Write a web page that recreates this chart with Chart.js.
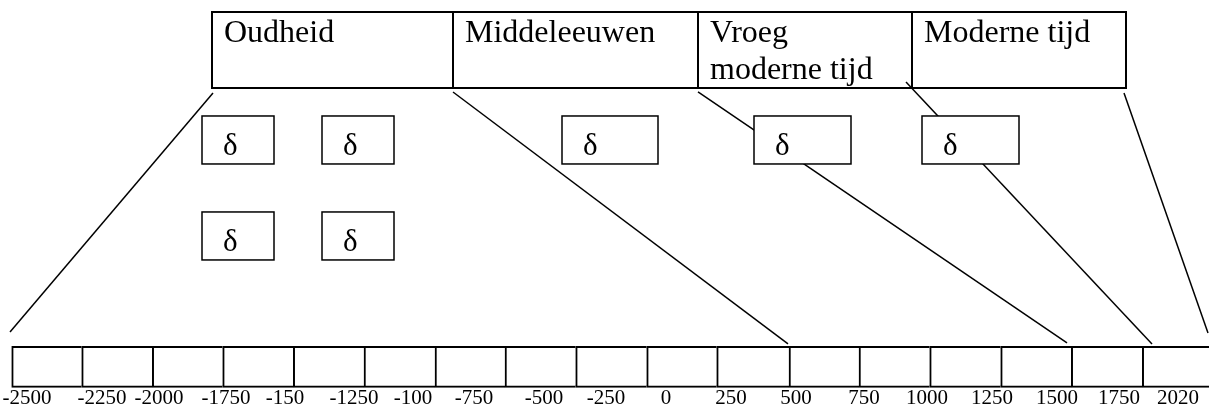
<!DOCTYPE html>
<html>
<head>
<meta charset="utf-8">
<script src="https://cdn.jsdelivr.net/npm/chart.js@4/dist/chart.umd.min.js"></script>
<style>
  html, body { margin: 0; padding: 0; background: #ffffff; }
  #wrap { position: relative; width: 1209px; height: 408px; }
</style>
</head>
<body>
<div id="wrap"><canvas id="c"></canvas></div>
<script>
// ---------- data ----------
const periodNames = [["Oudheid"], ["Middeleeuwen"], ["Vroeg", "moderne tijd"], ["Moderne tijd"]];
const tickLabels = ["-2500", "-2250", "-2000", "-1750", "-150", "-1250", "-100", "-750", "-500", "-250",
                    "0", "250", "500", "750", "1000", "1250", "1500", "1750", "2020"];
const eventSymbols = ["δ", "δ", "δ", "δ", "δ", "δ", "δ"];

// ---------- layout (diagram units, 1 unit = 1 px of the design) ----------
const periodEdgesX = [212, 453, 698, 912, 1126];
const periodBoxY = [12, 88];
const periodTextBaselines = [42, 79];
const tickLabelX = [27, 102, 159, 226, 285, 354, 413, 474, 544, 606, 666, 731, 796, 864, 927, 992, 1057, 1119, 1178];
const timelineEdgesX = [11.7, 81.7, 152.3, 222.7, 293.3, 364, 435, 505, 575.7, 646.7, 716.7, 789, 859,
                        929.7, 1000.7, 1071.3, 1142.3, 1212.8];
const timelineY = [346.5, 387.5];
const eventBoxes = [
  [202, 274, 116, 164], [322, 394, 116, 164], [562, 658, 116, 164],
  [754, 851, 116, 164], [922, 1019, 116, 164],
  [202, 274, 212, 260], [322, 394, 212, 260]
];
const connectors = [
  [[10, 332], [213, 93]],
  [[453, 92], [788, 344]],
  [[698, 92], [1067, 343]],
  [[906, 82], [1152, 344]],
  [[1124, 93], [1208, 333]]
];

const SERIF = '"Liberation Serif", "Times New Roman", serif';

const lineDatasets = connectors.map(seg => ({
  type: 'line',
  data: seg.map(p => ({ x: p[0], y: p[1] })),
  borderColor: '#000',
  borderWidth: 1.5,
  pointRadius: 0,
  fill: false,
  tension: 0,
  clip: false,
  order: 2
}));

const cellDataset = {
  type: 'bar',
  indexAxis: 'y',
  data: timelineEdgesX.slice(0, -1).map((x0, i) => ({
    y: (timelineY[0] + timelineY[1]) / 2,
    x: [x0, timelineEdgesX[i + 1]]
  })),
  backgroundColor: '#ffffff',
  borderColor: '#000000',
  borderWidth: { left: 2, top: 2, bottom: 2, right: 0 },
  borderSkipped: false,
  barThickness: timelineY[1] - timelineY[0],
  order: 1
};

const diagramPlugin = {
  id: 'diagram',
  beforeDraw(chart) {
    const ctx = chart.ctx;
    ctx.save();
    ctx.fillStyle = '#ffffff';
    ctx.fillRect(0, 0, chart.width, chart.height);
    ctx.restore();
  },
  afterDatasetsDraw(chart) {
    const ctx = chart.ctx;
    const xs = chart.scales.x, ys = chart.scales.y;
    const X = v => xs.getPixelForValue(v);
    const Y = v => ys.getPixelForValue(v);
    ctx.save();
    // period header boxes
    ctx.strokeStyle = '#000';
    ctx.lineWidth = 2;
    ctx.beginPath();
    ctx.moveTo(X(periodEdgesX[0]), Y(periodBoxY[0]));
    ctx.lineTo(X(periodEdgesX[periodEdgesX.length - 1]), Y(periodBoxY[0]));
    ctx.moveTo(X(periodEdgesX[0]), Y(periodBoxY[1]));
    ctx.lineTo(X(periodEdgesX[periodEdgesX.length - 1]), Y(periodBoxY[1]));
    periodEdgesX.forEach(x => {
      ctx.moveTo(X(x), Y(periodBoxY[0]) - 1);
      ctx.lineTo(X(x), Y(periodBoxY[1]) + 1);
    });
    ctx.stroke();
    ctx.fillStyle = '#000';
    ctx.font = '32px ' + SERIF;
    ctx.textAlign = 'left';
    ctx.textBaseline = 'alphabetic';
    periodNames.forEach((lines, i) => {
      lines.forEach((t, j) => {
        ctx.fillText(t, X(periodEdgesX[i]) + 12, Y(periodTextBaselines[j]));
      });
    });
    // event boxes
    ctx.lineWidth = 1.5;
    eventBoxes.forEach((b, i) => {
      const x0 = X(b[0]), x1 = X(b[1]), y0 = Y(b[2]), y1 = Y(b[3]);
      ctx.fillStyle = '#fff';
      ctx.fillRect(x0, y0, x1 - x0, y1 - y0);
      ctx.strokeRect(x0, y0, x1 - x0, y1 - y0);
      ctx.fillStyle = '#000';
      ctx.font = '31px ' + SERIF;
      ctx.fillText(eventSymbols[i], x0 + 21, y0 + 39);
    });
    ctx.restore();
  }
};

new Chart(document.getElementById('c'), {
  type: 'line',
  data: { datasets: [cellDataset, ...lineDatasets] },
  options: {
    responsive: true,
    maintainAspectRatio: false,
    animation: false,
    layout: { padding: 0 },
    plugins: { legend: { display: false }, tooltip: { enabled: false } },
    scales: {
      x: {
        type: 'linear',
        min: 0,
        max: 1209,
        offset: false,
        bounds: 'data',
        grid: { display: false, drawTicks: false, offset: false },
        border: { display: false },
        afterBuildTicks: axis => { axis.ticks = tickLabelX.map(v => ({ value: v })); },
        ticks: {
          autoSkip: false,
          maxRotation: 0,
          minRotation: 0,
          padding: 0,
          color: '#000',
          font: { family: SERIF, size: 21, lineHeight: 0.86 },
          callback: (v, i) => tickLabels[i]
        }
      },
      y: {
        type: 'linear',
        display: false,
        reverse: true,
        offset: false,
        bounds: 'data',
        grace: 0,
        grid: { offset: false },
        min: 0,
        max: 390
      }
    }
  },
  plugins: [diagramPlugin]
});
</script>
</body>
</html>
